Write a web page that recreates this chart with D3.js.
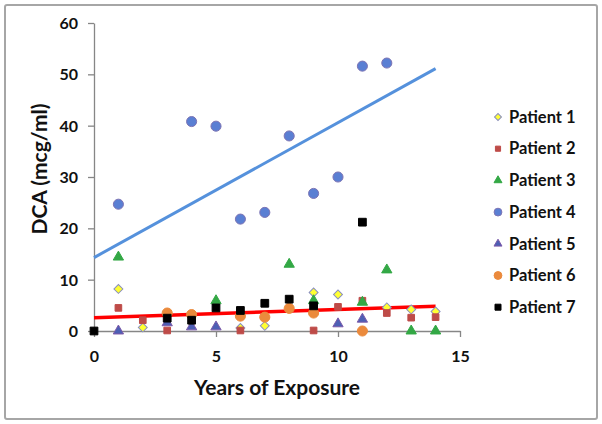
<!DOCTYPE html>
<html>
<head>
<meta charset="utf-8">
<script src="https://cdnjs.cloudflare.com/ajax/libs/d3/7.8.5/d3.min.js"></script>
<style>
  body { margin: 0; background: #fff; }
  text { font-family: Lato, "Open Sans", sans-serif; font-weight: 700; fill: #111; }
</style>
</head>
<body>
<script>
/********************************************************/
// data
const xTicks = [0, 5, 10, 15];
const yTicks = [0, 10, 20, 30, 40, 50, 60];

const patient1 = [[1, 8.2], [2, 0.7], [6, 0.6], [7, 1.0], [9, 7.5], [10, 7.1], [12, 4.6], [13, 4.2], [14, 3.8]];
const patient2 = [[1, 4.5], [2, 2.1], [3, 0.1], [6, 0.1], [9, 0.1], [10, 4.7], [11, 5.9], [12, 3.5], [13, 2.6], [14, 2.7]];
const patient3 = [[1, 14.4], [5, 5.9], [8, 13.0], [9, 5.9], [11, 5.6], [12, 11.9], [13, 0], [14, 0]];
const patient4 = [[1, 24.7], [4, 40.8], [5, 39.9], [6, 21.8], [7, 23.1], [8, 38.0], [9, 26.8], [10, 30.0], [11, 51.6], [12, 52.2]];
const patient5 = [[1, 0], [3, 1.6], [4, 0.8], [5, 0.8], [10, 1.4], [11, 2.3]];
const patient6 = [[3, 3.5], [4, 3.2], [6, 2.9], [7, 2.7], [8, 4.4], [9, 3.5], [11, 0]];
const patient7 = [[0, 0], [3, 2.5], [4, 2.1], [5, 4.5], [6, 4.0], [7, 5.4], [8, 6.2], [9, 4.9], [11, 21.2]];

const trendBlue = [[0, 14.3], [14, 51.1]];
const trendRed = [[0, 2.6], [14, 4.8]];

const seriesNames = ["Patient 1", "Patient 2", "Patient 3", "Patient 4", "Patient 5", "Patient 6", "Patient 7"];

/********************************************************/
const svgWidth = 602;
const svgHeight = 424;

const chartMargin = { top: 23, left: 94 };
const chartWidth = 366;   // 0..15
const chartHeight = 308;  // 0..60

const svg = d3
  .select("body")
  .append("svg")
  .attr("width", svgWidth)
  .attr("height", svgHeight);

// outer frame
svg
  .append("rect")
  .attr("x", 5)
  .attr("y", 5)
  .attr("width", 592)
  .attr("height", 414)
  .attr("rx", 2)
  .attr("fill", "#fff")
  .attr("stroke", "#a6a6a6")
  .attr("stroke-width", 2);

const chartGroup = svg
  .append("g")
  .attr("transform", `translate(${chartMargin.left}, ${chartMargin.top})`);

/************** scales ************/
const xScale = d3.scaleLinear().domain([0, 15]).range([0, chartWidth]);
const yScale = d3.scaleLinear().domain([0, 60]).range([chartHeight, 0]);

/************** axes ************/
const leftAxis = d3.axisLeft(yScale).tickValues(yTicks).tickSize(6).tickPadding(10).tickSizeOuter(0);
const bottomAxis = d3.axisBottom(xScale).tickValues(xTicks).tickSize(6).tickPadding(14).tickSizeOuter(0);

const gy = chartGroup.append("g").call(leftAxis);
const gx = chartGroup.append("g").attr("transform", `translate(0, ${chartHeight})`).call(bottomAxis);

[gx, gy].forEach((g) => {
  g.selectAll("path, line").attr("stroke", "#868686").attr("stroke-width", 1.3);
  g.selectAll("text").attr("font-size", "16px").attr("fill", "#111");
});
gy.selectAll("text").attr("dy", "0.35em");

/************** trend lines ************/
const line = d3
  .line()
  .x((d) => xScale(d[0]))
  .y((d) => yScale(d[1]));

chartGroup
  .append("path")
  .attr("d", line(trendBlue))
  .attr("fill", "none")
  .attr("stroke", "#5591dc")
  .attr("stroke-width", 3);

chartGroup
  .append("path")
  .attr("d", line(trendRed))
  .attr("fill", "none")
  .attr("stroke", "#ff0000")
  .attr("stroke-width", 3.5);

/************** markers ************/
// rotated square for the diamond (Excel style)
const styles = [
  { data: patient1, type: d3.symbolSquare, rot: 45, size: 40, fill: "#ffff33", stroke: "#8a8fbf" },
  { data: patient2, type: d3.symbolSquare, rot: 0, size: 44, fill: "#be4b48", stroke: "#be4b48" },
  { data: patient3, type: d3.symbolTriangle, rot: 0, size: 46, fill: "#33a845", stroke: "#33a845" },
  { data: patient4, type: d3.symbolCircle, rot: 0, size: 80, fill: "#5a7fd3", stroke: "#7d74b4" },
  { data: patient5, type: d3.symbolTriangle, rot: 0, size: 46, fill: "#4d5fb4", stroke: "#7d5aa9" },
  { data: patient6, type: d3.symbolCircle, rot: 0, size: 80, fill: "#eb8a3c", stroke: "#eb8a3c" },
  { data: patient7, type: d3.symbolSquare, rot: 0, size: 60, fill: "#000", stroke: "#000" }
];

styles.forEach((s, i) => {
  chartGroup
    .selectAll(".p" + i)
    .data(s.data)
    .enter()
    .append("path")
    .classed("p" + i, true)
    .attr("d", d3.symbol().type(s.type).size(s.size))
    .attr("transform", (d) => `translate(${xScale(d[0])}, ${yScale(d[1])}) rotate(${s.rot})`)
    .attr("fill", s.fill)
    .attr("stroke", s.stroke)
    .attr("stroke-width", 1);
});

/************** axis titles ************/
svg
  .append("text")
  .text("Years of Exposure")
  .attr("x", 277)
  .attr("y", 395)
  .attr("text-anchor", "middle")
  .attr("font-size", "21px");

svg
  .append("text")
  .text("DCA (mcg/ml)")
  .attr("transform", "translate(47, 169) rotate(-90)")
  .attr("text-anchor", "middle")
  .attr("font-size", "21px");

/************** legend ************/
const legend = svg
  .append("g")
  .attr("transform", "translate(498, 117)");

seriesNames.forEach((name, i) => {
  const s = styles[i];
  const row = legend.append("g").attr("transform", `translate(0, ${i * 31.7})`);
  row
    .append("path")
    .attr("d", d3.symbol().type(s.type).size(s.size * 0.6))
    .attr("transform", `rotate(${s.rot})`)
    .attr("fill", s.fill)
    .attr("stroke", s.stroke)
    .attr("stroke-width", 1);
  row
    .append("text")
    .text(name)
    .attr("x", 11)
    .attr("dy", "0.35em")
    .attr("font-size", "16.5px");
});
</script>
</body>
</html>
